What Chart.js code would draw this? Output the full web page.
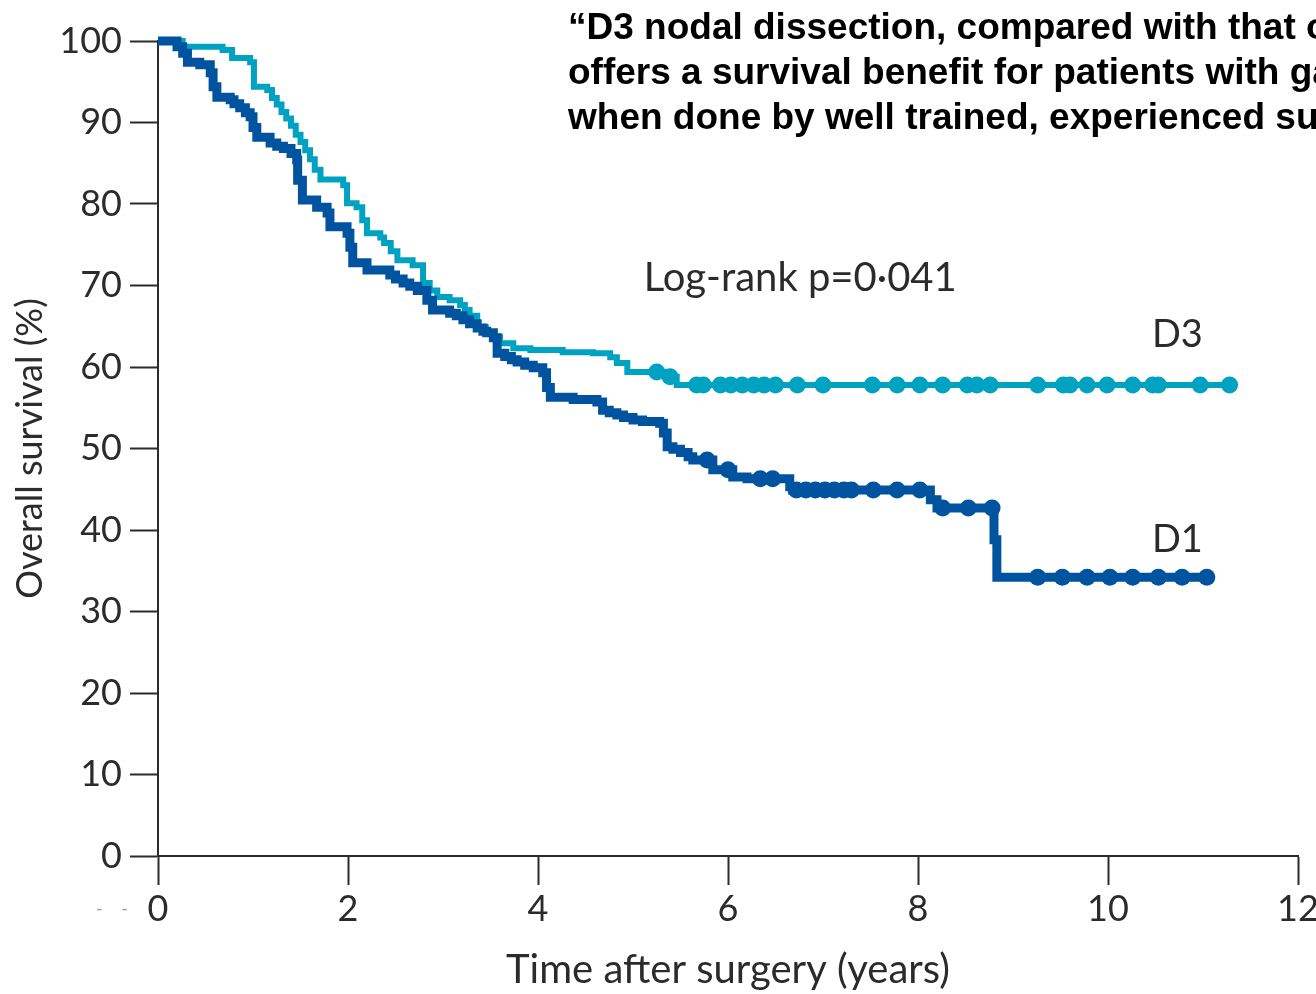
<!DOCTYPE html>
<html>
<head>
<meta charset="utf-8">
<script src="https://cdn.jsdelivr.net/npm/chart.js@4.4.1/dist/chart.umd.min.js"></script>
<style>
  html, body { margin: 0; padding: 0; background: #fff; overflow: hidden; }
  #wrap { position: relative; width: 1316px; height: 994px; }
  #quote {
    position: absolute; left: 568px; top: 4px; width: 900px;
    font-family: "Liberation Sans", Arial, sans-serif; font-weight: bold;
    font-size: 37px; line-height: 45px; color: #000; white-space: nowrap;
  }
</style>
</head>
<body>
<div id="wrap">
  <canvas id="km"></canvas>
  <div id="quote">“D3 nodal dissection, compared with that of D1,<br>offers a survival benefit for patients with gastric cancer<br>when done by well trained, experienced surgeons”</div>
</div>
<script>
// Axis ticks
const yearTicks = [0, 2, 4, 6, 8, 10, 12];
const survivalTicks = [0, 10, 20, 30, 40, 50, 60, 70, 80, 90, 100];

// D1 lymphadenectomy: Kaplan-Meier steps (years, overall survival %)
const d1Times = [0, 0.2, 0.26, 0.31, 0.44, 0.55, 0.58, 0.62, 0.76, 0.8, 0.86, 0.92, 0.97, 1.0, 1.04, 1.18, 1.25, 1.32,
  1.4, 1.46, 1.47, 1.52, 1.67, 1.78, 1.81, 1.99, 2.02, 2.05, 2.2, 2.44, 2.5, 2.58, 2.65, 2.73, 2.83, 2.89, 3.07, 3.14,
  3.21, 3.28, 3.36, 3.42, 3.46, 3.53, 3.57, 3.65, 3.72, 3.78, 3.86, 3.95, 4.05, 4.09, 4.13, 4.37, 4.62, 4.68, 4.75,
  4.83, 4.9, 5.0, 5.1, 5.28, 5.32, 5.36, 5.42, 5.5, 5.58, 5.63, 5.84, 6.05, 6.2, 6.65, 6.68, 8.13, 8.2, 8.8, 8.83, 11.04];
const d1Survival = [100, 99.3, 98.5, 97.4, 97.1, 96.1, 94.4, 93.1, 92.8, 92.3, 91.8, 91.2, 90.7, 89.4, 88.2, 87.5, 87.1, 86.8,
  86.2, 85.4, 82.9, 80.5, 79.6, 78.9, 77.2, 76.4, 74.7, 72.8, 71.9, 71.3, 70.8, 70.3, 69.9, 69.4, 68.2, 67.0, 66.6, 66.3,
  65.8, 65.3, 64.8, 64.4, 64.2, 63.6, 61.7, 61.3, 60.9, 60.6, 60.2, 59.9, 59.3, 57.5, 56.3, 56.0, 55.7, 54.7, 54.4,
  54.1, 53.8, 53.5, 53.3, 53.1, 51.9, 50.2, 49.9, 49.5, 49.0, 48.6, 47.4, 46.5, 46.3, 45.3, 44.9, 43.7, 42.7, 38.8, 34.2, 34.2];
// D1 censored patients
const d1CensorTimes = [5.78, 6.0, 6.34, 6.47, 6.72, 6.82, 6.92, 7.02, 7.12, 7.22, 7.3, 7.53, 7.78, 8.02, 8.26, 8.53, 8.78,
  9.26, 9.52, 9.78, 10.02, 10.26, 10.53, 10.78, 11.04];
const d1CensorSurvival = [48.6, 47.4, 46.3, 46.3, 44.9, 44.9, 44.9, 44.9, 44.9, 44.9, 44.9, 44.9, 44.9, 44.9, 42.7, 42.7, 42.7,
  34.2, 34.2, 34.2, 34.2, 34.2, 34.2, 34.2, 34.2];

// D3 lymphadenectomy: Kaplan-Meier steps (years, overall survival %)
const d3Times = [0, 0.26, 0.68, 0.78, 0.97, 1.01, 1.15, 1.2, 1.25, 1.3, 1.35, 1.4, 1.45, 1.5, 1.55, 1.6, 1.65, 1.71, 1.95,
  1.99, 2.09, 2.15, 2.2, 2.34, 2.38, 2.45, 2.52, 2.68, 2.79, 2.86, 2.94, 3.07, 3.18, 3.23, 3.28, 3.36, 3.45, 3.53, 3.6,
  3.74, 3.92, 4.26, 4.58, 4.76, 4.83, 4.94, 5.36, 5.46, 11.28];
const d3Survival = [100, 99.3, 98.9, 97.9, 97.4, 94.4, 94.0, 93.0, 92.2, 91.3, 90.5, 89.6, 88.5, 87.6, 86.6, 85.5, 84.2, 83.0, 82.3,
  80.1, 79.6, 78.0, 76.4, 75.9, 75.2, 74.2, 73.1, 72.5, 70.3, 69.4, 68.6, 68.2, 67.6, 67.0, 66.3, 64.9, 64.2, 63.7, 62.9,
  62.3, 62.1, 61.8, 61.7, 61.2, 60.5, 59.4, 58.8, 57.8, 57.8];
// D3 censored patients
const d3CensorTimes = [5.25, 5.39, 5.67, 5.74, 5.92, 6.03, 6.15, 6.27, 6.38, 6.5, 6.73, 7.0, 7.52, 7.78, 8.02, 8.26, 8.52,
  8.62, 8.76, 9.26, 9.53, 9.6, 9.78, 9.99, 10.26, 10.47, 10.53, 10.97, 11.28];
const d3CensorSurvival = [59.4, 58.8, 57.8, 57.8, 57.8, 57.8, 57.8, 57.8, 57.8, 57.8, 57.8, 57.8, 57.8, 57.8, 57.8, 57.8, 57.8,
  57.8, 57.8, 57.8, 57.8, 57.8, 57.8, 57.8, 57.8, 57.8, 57.8, 57.8, 57.8];

const D1_BLUE = '#00549f';
const D3_CYAN = '#00a2c2';
const INK = '#2b2b2b';

const toPoints = (xs, ys) => xs.map((x, i) => ({ x: x, y: ys[i] }));

// Text placed in data coordinates
const notes = [
  { text: 'Log-rank p=0·041', x: 6.76, y: 70.9, size: 40 },
  { text: 'D3', x: 10.73, y: 63.9, size: 38 },
  { text: 'D1', x: 10.73, y: 38.8, size: 38 }
];

const notesPlugin = {
  id: 'notes',
  afterDraw(chart) {
    const { ctx, scales } = chart;
    ctx.save();
    ctx.fillStyle = INK;
    ctx.textAlign = 'center';
    ctx.textBaseline = 'middle';
    notes.forEach(n => {
      ctx.font = n.size + 'px Lato';
      ctx.fillText(n.text, scales.x.getPixelForValue(n.x), scales.y.getPixelForValue(n.y));
    });
    ctx.fillStyle = '#9a9a9a';
    ctx.font = '18px Lato';
    ctx.fillText('-    -', 112, 909);
    ctx.restore();
  }
};

Chart.defaults.font.family = 'Lato';
Chart.defaults.color = INK;

new Chart(document.getElementById('km'), {
  type: 'line',
  data: {
    datasets: [
      { label: 'D1', data: toPoints(d1Times, d1Survival), stepped: 'before', borderColor: D1_BLUE,
        borderWidth: 9, pointRadius: 0, fill: false, clip: false, borderJoinStyle: 'miter', borderCapStyle: 'butt', order: 1 },
      { label: 'D1 censored', data: toPoints(d1CensorTimes, d1CensorSurvival), showLine: false, pointRadius: 8.5,
        pointBackgroundColor: D1_BLUE, pointBorderWidth: 0, clip: false, order: 0 },
      { label: 'D3', data: toPoints(d3Times, d3Survival), stepped: 'before', borderColor: D3_CYAN,
        borderWidth: 6, pointRadius: 0, fill: false, clip: false, borderJoinStyle: 'miter', borderCapStyle: 'butt', order: 3 },
      { label: 'D3 censored', data: toPoints(d3CensorTimes, d3CensorSurvival), showLine: false, pointRadius: 8.5,
        pointBackgroundColor: D3_CYAN, pointBorderWidth: 0, clip: false, order: 2 }
    ]
  },
  options: {
    responsive: true,
    maintainAspectRatio: false,
    animation: false,
    events: [],
    layout: { padding: { left: 0, right: 18, top: 41, bottom: 0 } },
    plugins: { legend: { display: false }, tooltip: { enabled: false } },
    scales: {
      x: {
        type: 'linear', min: 0, max: 12,
        afterBuildTicks: s => { s.ticks = yearTicks.map(v => ({ value: v })); },
        afterFit: s => { s.height = 138; s.paddingLeft = 0; s.paddingRight = 0; },
        border: { display: true, color: INK, width: 2 },
        grid: { drawOnChartArea: false, drawTicks: true, tickLength: 29, tickWidth: 2, tickColor: INK },
        ticks: { font: { size: 36 }, color: INK, padding: 3, maxRotation: 0 },
        title: { display: true, text: 'Time after surgery (years)', font: { size: 40 }, color: INK,
          padding: { top: 0, bottom: 0 } }
      },
      y: {
        type: 'linear', min: 0, max: 100,
        afterBuildTicks: s => { s.ticks = survivalTicks.map(v => ({ value: v })); },
        afterFit: s => { s.width = 158; s.paddingTop = 0; s.paddingBottom = 0; },
        border: { display: true, color: INK, width: 2 },
        grid: { drawOnChartArea: false, drawTicks: true, tickLength: 28, tickWidth: 2, tickColor: INK },
        ticks: { font: { size: 36 }, color: INK, padding: 8 },
        title: { display: true, text: 'Overall survival (%)', font: { size: 36 }, color: INK,
          padding: { top: 9, bottom: 0 } }
      }
    }
  },
  plugins: [notesPlugin]
});
</script>
</body>
</html>
